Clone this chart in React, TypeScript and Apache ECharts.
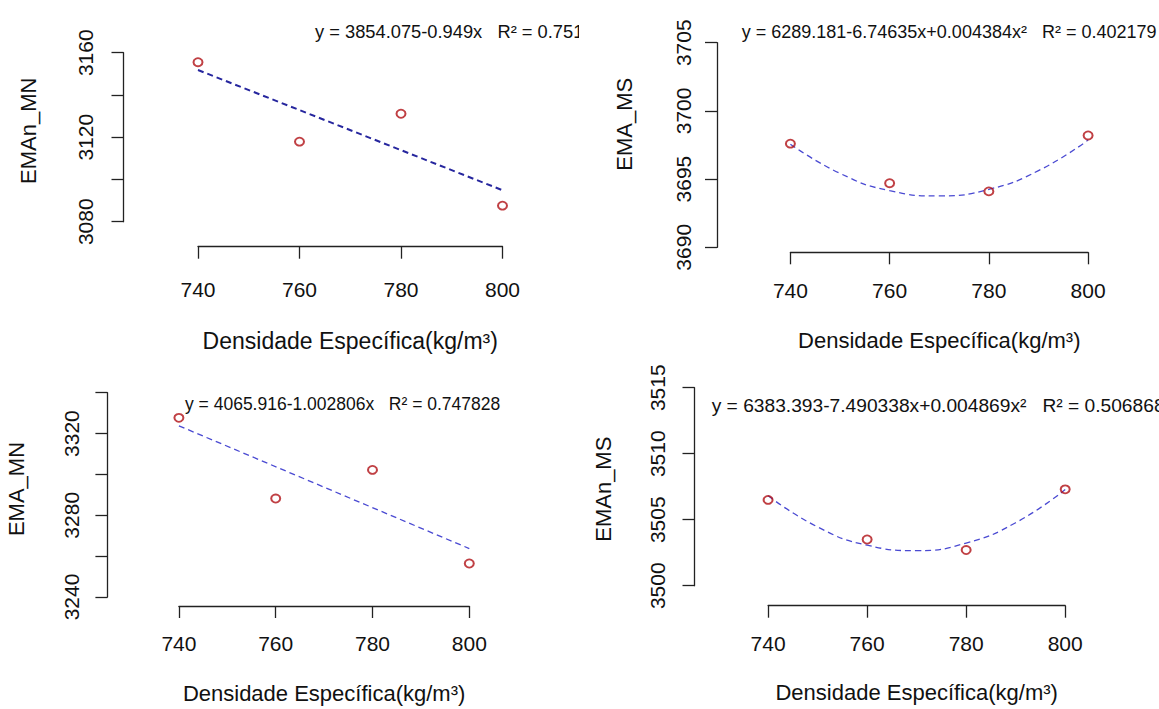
import React, { useEffect, useRef } from "react";
import * as echarts from "echarts";

// ---------- data ----------
const DENSITY = [740, 760, 780, 800];
const X_TICK_MIN = 740;
const X_TICK_MAX = 800;
const X_TICK_STEP = 20;

const EMAN_MN = [3155.5, 3117.9, 3131.1, 3087.6];
const EMA_MS = [3697.6, 3694.7, 3694.1, 3698.2];
const EMA_MN = [3327.7, 3288.2, 3302.2, 3256.4];
const EMAN_MS = [3506.5, 3503.5, 3502.7, 3507.3];

const FIT_X_LINEAR = [740, 800];
const FIT_EMAN_MN = [3151.8, 3094.9];
const FIT_EMA_MN = [3323.8, 3263.7];

const FIT_X_CURVE = [740, 750, 760, 770, 780, 790, 800];
const FIT_EMA_MS = [3697.56, 3695.42, 3694.15, 3693.77, 3694.25, 3695.62, 3697.86];
const FIT_EMAN_MS = [3506.81, 3504.45, 3503.07, 3502.66, 3503.23, 3504.77, 3507.28];

const Y_LABELS_EMAN_MN = [3080, 3120, 3160];
const Y_LABELS_EMA_MS = [3690, 3695, 3700, 3705];
const Y_LABELS_EMA_MN = [3240, 3280, 3320];
const Y_LABELS_EMAN_MS = [3500, 3505, 3510, 3515];

const EQ_EMAN_MN = "y = 3854.075-0.949x\u00A0\u00A0\u00A0R\u00B2 = 0.751";
const EQ_EMA_MS = "y = 6289.181-6.74635x+0.004384x\u00B2\u00A0\u00A0\u00A0R\u00B2 = 0.402179";
const EQ_EMA_MN = "y = 4065.916-1.002806x\u00A0\u00A0\u00A0R\u00B2 = 0.747828";
const EQ_EMAN_MS = "y = 6383.393-7.490338x+0.004869x\u00B2\u00A0\u00A0\u00A0R\u00B2 = 0.506868";

const X_NAME = "Densidade Específica(kg/m³)";

const FONT = "'Liberation Sans', Arial, sans-serif";

type Panel = {
  box: { left: number; top: number; width: number; height: number };
  grid: { left: number; top: number; width: number; height: number };
  yMin: number; yMax: number; yStep: number; yLabels: number[];
  xOff: number; yOff: number;
  xLabMargin: number; yLabMargin: number; xNameGap: number;
  yName: string; yNamePos: [number, number];
  eq: string; eqPos: [number, number]; eqSize: number;
  pts: number[]; fitX: number[]; fitY: number[]; smooth: boolean;
  lineColor: string; lineWidth: number; xNameSize: number;
};

const PANELS: Panel[] = [
  {
    box: { left: 0, top: 0, width: 579, height: 357 },
    grid: { left: 198, top: 52.7, width: 304.5, height: 169 },
    yMin: 3080, yMax: 3160, yStep: 20, yLabels: Y_LABELS_EMAN_MN,
    xOff: 25, yOff: 74.5, xLabMargin: 32, yLabMargin: 28, xNameGap: 83,
    yName: "EMAn_MN", yNamePos: [28.3, 130.8],
    eq: EQ_EMAN_MN, eqPos: [315, 31], eqSize: 18.3,
    pts: EMAN_MN, fitX: FIT_X_LINEAR, fitY: FIT_EMAN_MN, smooth: false,
    lineColor: "#26269e", lineWidth: 2, xNameSize: 23,
  },
  {
    box: { left: 579, top: 0, width: 580, height: 357 },
    grid: { left: 211.4, top: 42.7, width: 297.7, height: 204.6 },
    yMin: 3690, yMax: 3705, yStep: 5, yLabels: Y_LABELS_EMA_MS,
    xOff: 5, yOff: 73.4, xLabMargin: 27.5, yLabMargin: 23, xNameGap: 77,
    yName: "EMA_MS", yNamePos: [45.4, 124.2],
    eq: EQ_EMA_MS, eqPos: [162.7, 31.5], eqSize: 18,
    pts: EMA_MS, fitX: FIT_X_CURVE, fitY: FIT_EMA_MS, smooth: true,
    lineColor: "#4a4ad2", lineWidth: 1.3, xNameSize: 22,
  },
  {
    box: { left: 0, top: 357, width: 579, height: 352 },
    grid: { left: 178.9, top: 35.7, width: 290.4, height: 213.3 },
    yMin: 3240, yMax: 3340, yStep: 20, yLabels: Y_LABELS_EMA_MN,
    xOff: 9, yOff: 71.5, xLabMargin: 27.3, yLabMargin: 25, xNameGap: 76,
    yName: "EMA_MN", yNamePos: [16.7, 132],
    eq: EQ_EMA_MN, eqPos: [185, 47], eqSize: 17.5,
    pts: EMA_MN, fitX: FIT_X_LINEAR, fitY: FIT_EMA_MN, smooth: false,
    lineColor: "#4a4ad2", lineWidth: 1.3, xNameSize: 22,
  },
  {
    box: { left: 579, top: 357, width: 580, height: 352 },
    grid: { left: 189.1, top: 30.7, width: 297.1, height: 198 },
    yMin: 3500, yMax: 3515, yStep: 5, yLabels: Y_LABELS_EMAN_MS,
    xOff: 20, yOff: 73.6, xLabMargin: 27.5, yLabMargin: 27, xNameGap: 75.5,
    yName: "EMAn_MS", yNamePos: [24.3, 132.2],
    eq: EQ_EMAN_MS, eqPos: [132.7, 48], eqSize: 19.2,
    pts: EMAN_MS, fitX: FIT_X_CURVE, fitY: FIT_EMAN_MS, smooth: true,
    lineColor: "#4a4ad2", lineWidth: 1.3, xNameSize: 22,
  },
];

function buildOption(p: Panel): any {
  const axisLine = { show: true, onZero: false, lineStyle: { color: "#222", width: 1.3 } };
  const axisTick = { show: true, inside: false, length: 12, lineStyle: { color: "#222", width: 1.3 } };
  return {
    animation: false,
    backgroundColor: "#ffffff",
    grid: { ...p.grid, containLabel: false },
    xAxis: {
      type: "value",
      min: X_TICK_MIN,
      max: X_TICK_MAX,
      interval: X_TICK_STEP,
      offset: p.xOff,
      name: X_NAME,
      nameLocation: "middle",
      nameGap: p.xNameGap,
      nameTextStyle: { fontSize: p.xNameSize, color: "#111", fontFamily: FONT },
      axisLine,
      axisTick,
      splitLine: { show: false },
      axisLabel: {
        fontSize: 21, color: "#111", fontFamily: FONT, margin: p.xLabMargin,
        showMinLabel: true, showMaxLabel: true,
      },
    },
    yAxis: {
      type: "value",
      min: p.yMin,
      max: p.yMax,
      interval: p.yStep,
      offset: p.yOff,
      axisLine,
      axisTick,
      splitLine: { show: false },
      axisLabel: {
        rotate: 90, fontSize: 21, color: "#111", fontFamily: FONT, margin: p.yLabMargin,
        showMinLabel: true, showMaxLabel: true,
        formatter: (v: number) => (p.yLabels.indexOf(Math.round(v)) >= 0 ? String(Math.round(v)) : ""),
      },
    },
    graphic: [
      {
        type: "text",
        x: p.eqPos[0],
        y: p.eqPos[1],
        style: {
          text: p.eq, fill: "#111", fontSize: p.eqSize, fontFamily: FONT,
          align: "left", verticalAlign: "middle",
        },
      },
      {
        type: "text",
        x: p.yNamePos[0],
        y: p.yNamePos[1],
        rotation: Math.PI / 2,
        style: {
          text: p.yName, fill: "#111", fontSize: 22, fontFamily: FONT,
          align: "center", verticalAlign: "middle",
        },
      },
    ],
    series: [
      {
        type: "line",
        data: p.fitX.map((x, i) => [x, p.fitY[i]]),
        showSymbol: false,
        symbol: "none",
        smooth: p.smooth ? 0.5 : false,
        clip: false,
        lineStyle: { color: p.lineColor, width: p.lineWidth, type: [6, 4] },
        z: 2,
      },
      {
        type: "scatter",
        data: DENSITY.map((x, i) => [x, p.pts[i]]),
        symbol: "circle",
        symbolSize: [9, 8],
        clip: false,
        itemStyle: { color: "rgba(255,255,255,0)", borderColor: "#b01015", borderWidth: 1.9 },
        z: 3,
      },
    ],
  };
}

function ChartPanel({ panel }: { panel: Panel }) {
  const ref = useRef<HTMLDivElement | null>(null);
  useEffect(() => {
    if (!ref.current) return;
    const chart = echarts.init(ref.current, null, { renderer: "svg" });
    chart.setOption(buildOption(panel));
    return () => chart.dispose();
  }, [panel]);
  return (
    <div
      ref={ref}
      style={{
        position: "absolute",
        left: panel.box.left,
        top: panel.box.top,
        width: panel.box.width,
        height: panel.box.height,
        overflow: "hidden",
      }}
    />
  );
}

export default function App() {
  useEffect(() => {
    document.body.style.margin = "0";
    document.body.style.background = "#ffffff";
  }, []);
  return (
    <div
      style={{
        position: "absolute",
        left: 0,
        top: 0,
        width: 1159,
        height: 709,
        background: "#ffffff",
        overflow: "hidden",
      }}
    >
      {PANELS.map((p, i) => (
        <ChartPanel key={i} panel={p} />
      ))}
    </div>
  );
}
